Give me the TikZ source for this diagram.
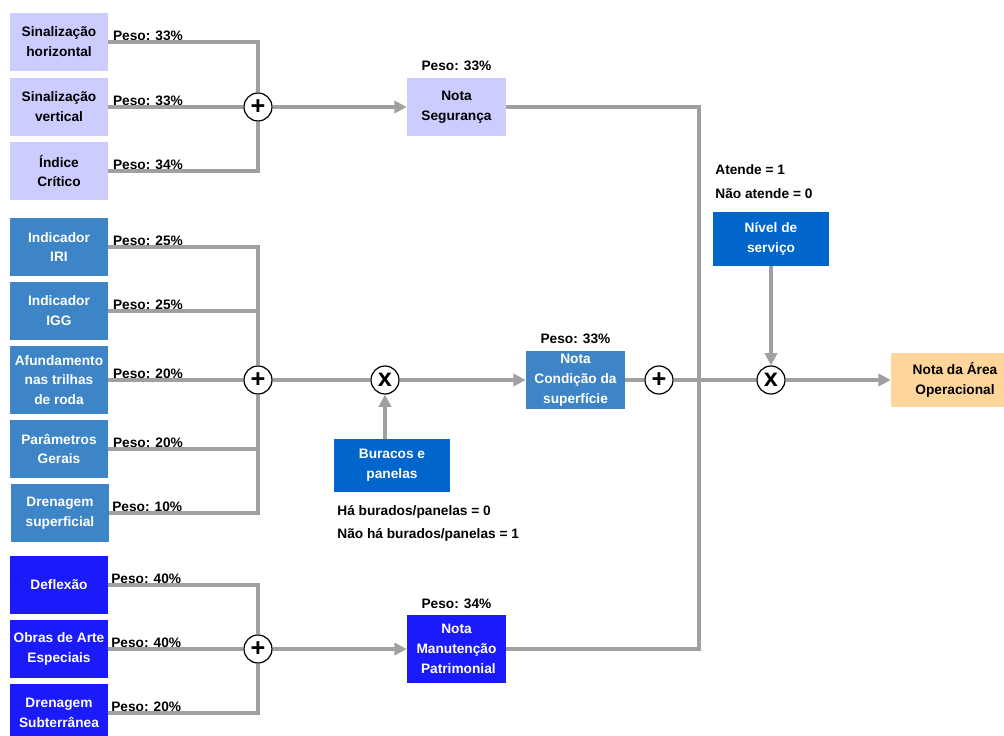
\documentclass[tikz,border=0pt]{standalone}
\usepackage{fontspec}
\setmainfont{Liberation Sans}
\usetikzlibrary{positioning, arrows.meta}

\definecolor{segfill}{RGB}{204,204,255}
\definecolor{supfill}{RGB}{61,133,198}
\definecolor{darkfill}{RGB}{0,102,204}
\definecolor{patfill}{RGB}{26,26,250}
\definecolor{finfill}{RGB}{255,214,153}
\definecolor{linegray}{RGB}{160,160,160}

\begin{document}
\begin{tikzpicture}[
    x=0.02cm, y=-0.02cm,
    box/.style={rectangle, minimum width=1.96cm, minimum height=1.16cm, align=center, inner sep=1pt, font=\bfseries\fontsize{7.8}{11.3}\selectfont},
    peso/.style={anchor=south west, inner sep=0.5pt, font=\bfseries\fontsize{7.8}{9}\selectfont},
    note/.style={anchor=base west, inner sep=0pt, font=\bfseries\fontsize{7.8}{9}\selectfont},
    op/.style={circle, draw, line width=0.7pt, fill=white, minimum size=0.56cm, inner sep=0pt, font=\bfseries\Large},
    line/.style={draw=linegray, line width=2pt},
    arrow/.style={line, -{Triangle[length=7pt, width=7pt]}}
]
\useasboundingbox (0,0) rectangle (1004,736);

% Seguranca
\node[box, fill=segfill] (sh) at (59,42) {Sinalização\\horizontal};
\node[box, fill=segfill] (sv) at (59,107) {Sinalização\\vertical};
\node[box, fill=segfill] (ic) at (59,171) {Índice\\Crítico};
\node[op] (sumS) at (258,107) {+};
\node[box, fill=segfill, minimum width=1.98cm, minimum height=1.18cm] (seg) at (456.5,107) {Nota\\Segurança};
\node[peso, anchor=south, above=3pt of seg] {Peso: 33\%};

% Condicao da superficie
\node[box, fill=supfill, text=white] (iri) at (59,247) {Indicador\\IRI};
\node[box, fill=supfill, text=white] (igg) at (59,311) {Indicador\\IGG};
\node[box, fill=supfill, text=white, minimum height=1.38cm] (afu) at (59,380) {Afundamento\\nas trilhas\\de roda};
\node[box, fill=supfill, text=white] (par) at (59,449) {Parâmetros\\Gerais};
\node[box, fill=supfill, text=white] (dre) at (60,513) {Drenagem\\superficial};
\node[op] (sumP) at (258,380) {+};
\node[op] (prodB) at (385,380) {x};
\node[box, fill=supfill, text=white, minimum width=1.98cm, minimum height=1.18cm] (cond) at (575.5,380) {Nota\\Condição da\\superfície};
\node[peso, anchor=south, above=3pt of cond] {Peso: 33\%};
\node[box, fill=darkfill, text=white, minimum width=2.32cm, minimum height=1.06cm] (bur) at (392,465.5) {Buracos e\\panelas};
\node[note] (bur0) at (337,515) {Há burados/panelas = 0};
\node[note] (bur1) at (337,538) {Não há burados/panelas = 1};

% Manutencao patrimonial
\node[box, fill=patfill, text=white] (def) at (59,585) {Deflexão};
\node[box, fill=patfill, text=white] (obr) at (59,649) {Obras de Arte\\Especiais};
\node[box, fill=patfill, text=white] (drs) at (59,713) {Drenagem\\Subterrânea};
\node[op] (sumM) at (258,649) {+};
\node[box, fill=patfill, text=white, minimum width=1.98cm, minimum height=1.36cm] (man) at (456.5,649) {Nota\\Manutenção\\\ Patrimonial};
\node[peso, anchor=south, above=3pt of man] {Peso: 34\%};

% Nota final
\node[op] (sumC) at (659,380) {+};
\coordinate (junc) at (699,380);
\node[box, fill=darkfill, text=white, minimum width=2.32cm, minimum height=1.08cm] (niv) at (771,239) {Nível de\\serviço};
\node[note] (atd1) at (715,175) {Atende = 1};
\node[note] (atd0) at (715,199) {Não atende = 0};
\node[op] (prodN) at (771,380) {x};
\node[box, fill=finfill, minimum width=2.56cm, minimum height=1.08cm] (fin) at (955,380) {Nota da Área\\Operacional};

% Pesos
\node[peso] at ([xshift=2pt] sh.east) {Peso: 33\%};
\node[peso] at ([xshift=2pt] sv.east) {Peso: 33\%};
\node[peso] at ([xshift=2pt] ic.east) {Peso: 34\%};
\node[peso] at ([xshift=2pt] iri.east) {Peso: 25\%};
\node[peso] at ([xshift=2pt] igg.east) {Peso: 25\%};
\node[peso] at ([xshift=2pt] afu.east) {Peso: 20\%};
\node[peso] at ([xshift=2pt] par.east) {Peso: 20\%};
\node[peso] at ([xshift=1pt] dre.east) {Peso: 10\%};
\node[peso] at ([xshift=1pt] def.east) {Peso: 40\%};
\node[peso] at ([xshift=1pt] obr.east) {Peso: 40\%};
\node[peso] at ([xshift=1pt] drs.east) {Peso: 20\%};

% Arrows
\draw[line] (sh.east) -| (sumS.north);
\draw[line] (sv.east) -- (sumS.west);
\draw[line] (ic.east) -| (sumS.south);
\draw[arrow] (sumS) -- (seg);

\draw[line] (iri.east) -| (sumP.north);
\draw[line] (igg.east) -| (sumP.north);
\draw[line] (afu.east) -- (sumP.west);
\draw[line] (par.east) -| (sumP.south);
\draw[line] (dre.east) -| (sumP.south);
\draw[line] (sumP) -- (prodB);
\draw[arrow] (prodB) -- (cond);
\draw[arrow] (bur.north -| prodB) -- (prodB.south);

\draw[line] (def.east) -| (sumM.north);
\draw[line] (obr.east) -- (sumM.west);
\draw[line] (drs.east) -| (sumM.south);
\draw[arrow] (sumM) -- (man);

\draw[line] (cond) -- (sumC);
\draw[line] (seg.east) -| (junc) |- (man.east);
\draw[line] (sumC) -- (prodN);
\draw[arrow] (niv) -- (prodN);
\draw[arrow] (prodN) -- (fin);
\end{tikzpicture}
\end{document}
